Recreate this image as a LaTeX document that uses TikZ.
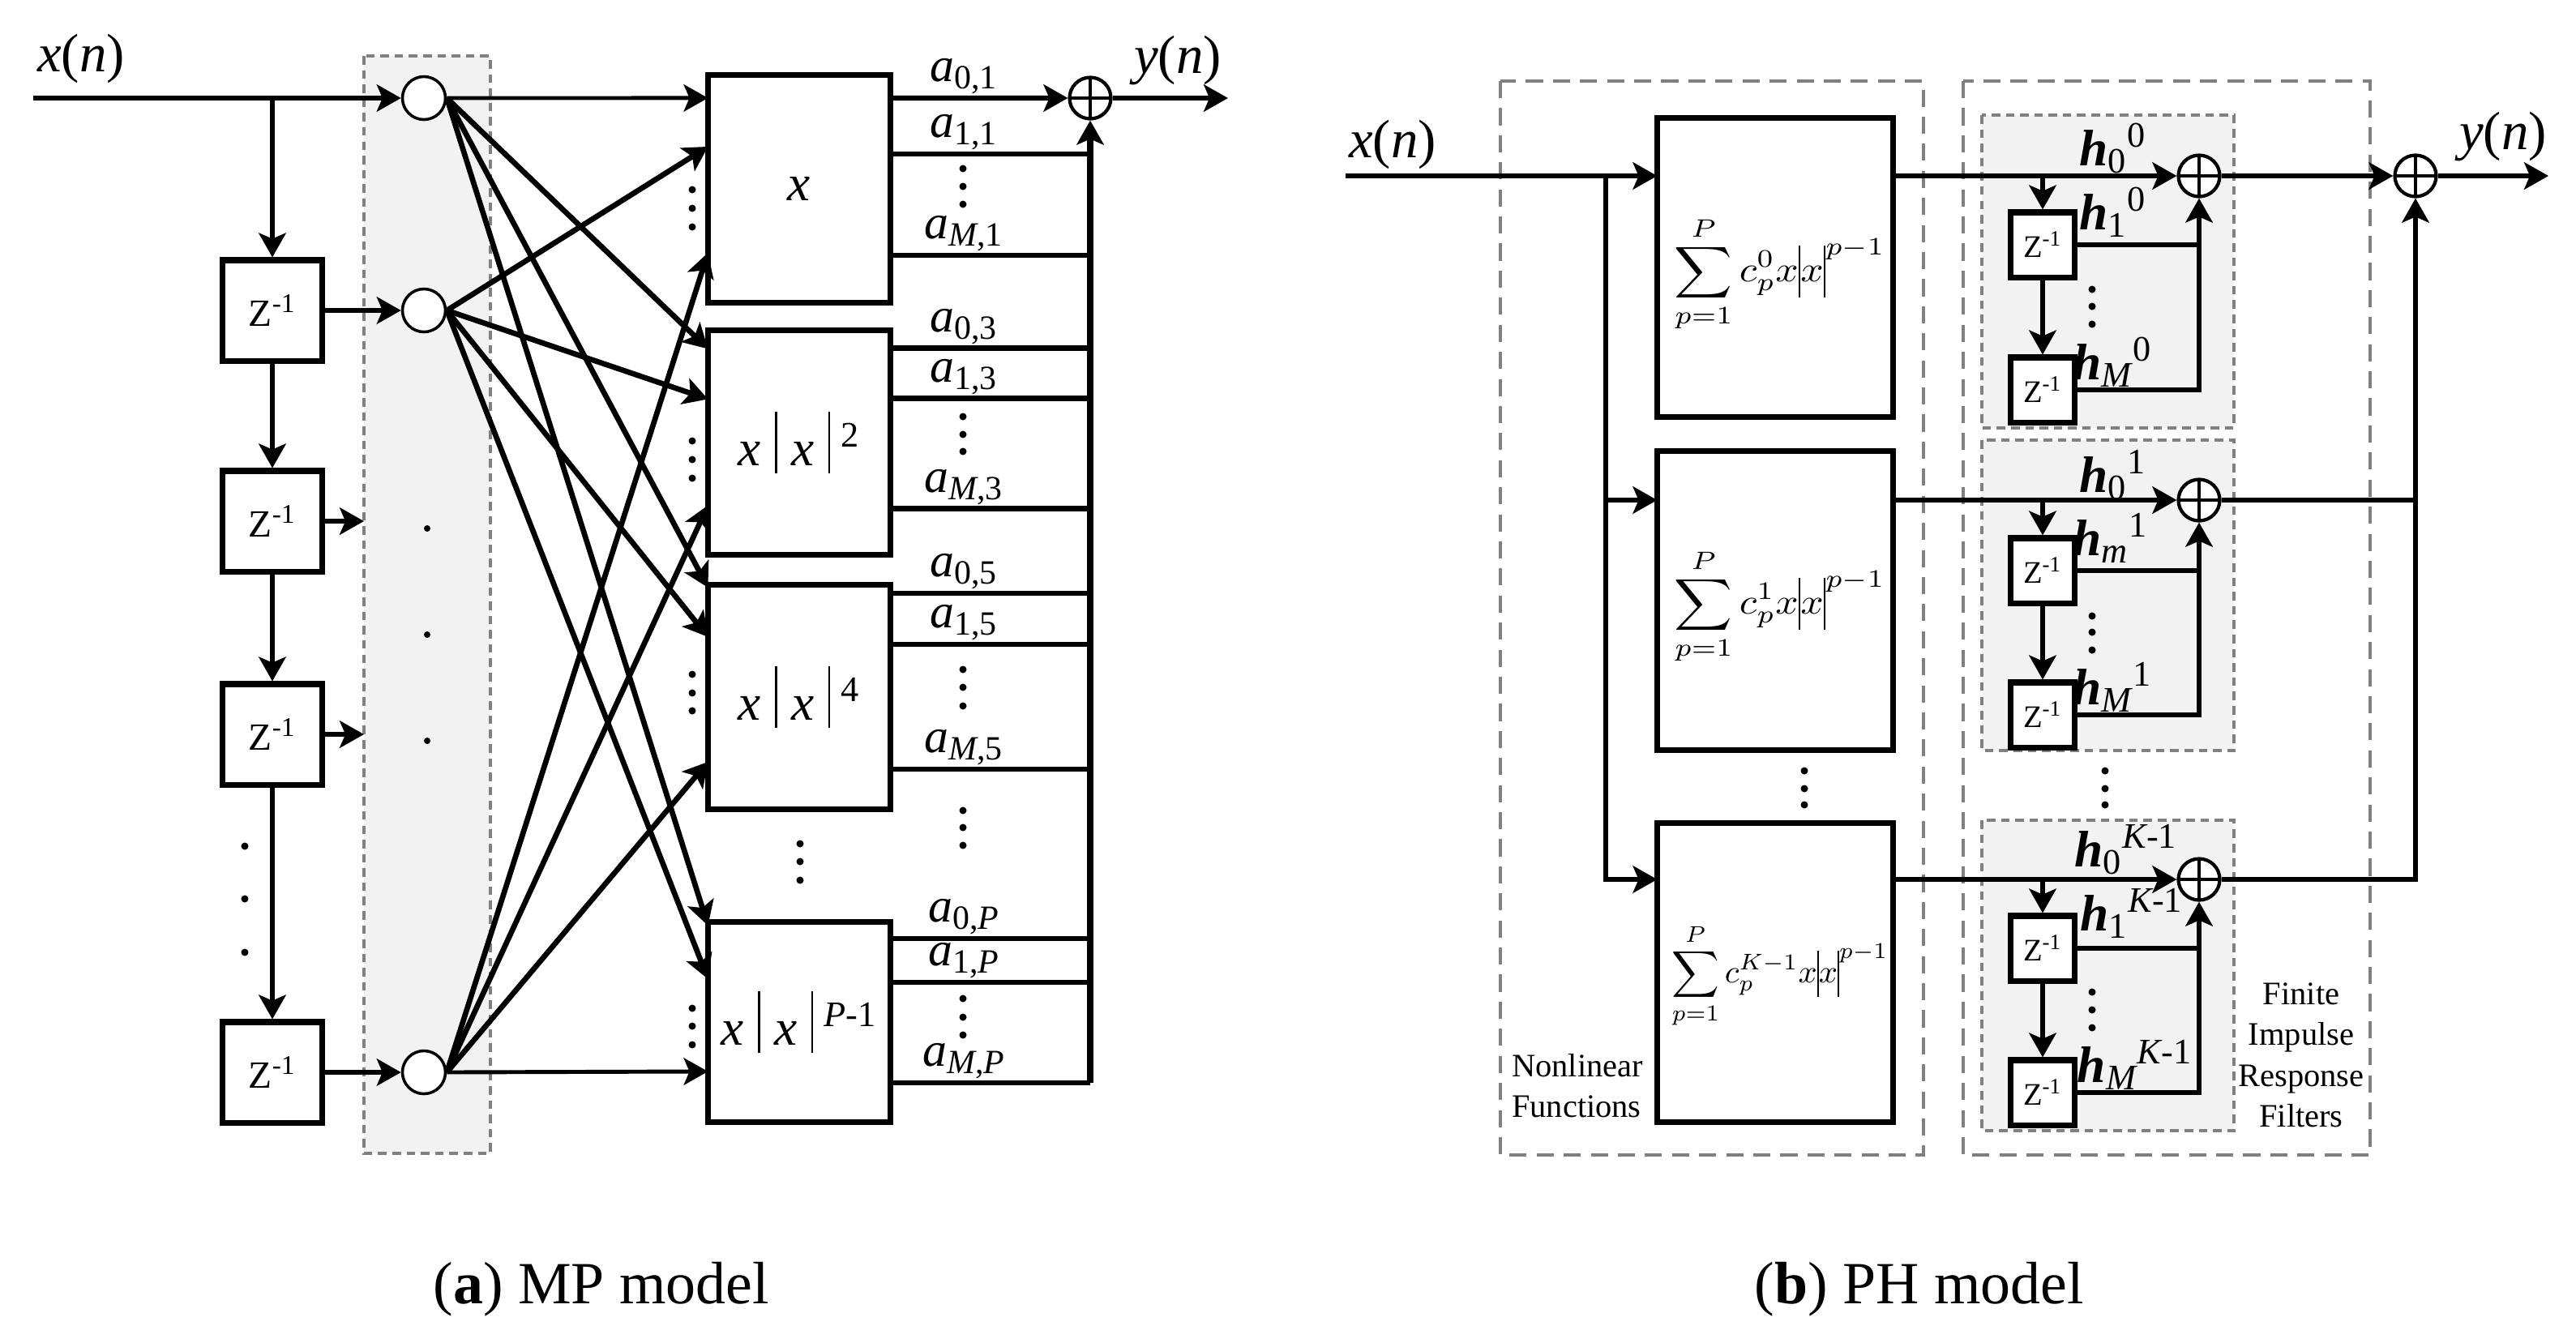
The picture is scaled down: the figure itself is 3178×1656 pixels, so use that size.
\RequirePackage{fix-cm}
\documentclass[tikz,border=0pt]{standalone}
\usepackage{amsmath}
\usepackage{exscale}
\usepackage{graphicx}
\usepackage[no-math]{fontspec}
\setmainfont{Liberation Serif}
\usetikzlibrary{calc, arrows.meta, positioning}

\newcommand{\absbar}{\raisebox{-0.15em}{\rule{0.04em}{1.2em}}}
\newcommand{\sumbar}{\raisebox{-0.45em}{\rule{0.05em}{1.45em}}}
\newcommand{\polysum}[3]{\resizebox*{#2}{#3}{$\displaystyle\sum_{p=1}^{P} c_p^{#1} x\sumbar x\sumbar^{p-1}$}}

\begin{document}
\begin{tikzpicture}[
    x=0.01cm, y=-0.01cm,
    line width=1.8pt,
    arrow/.style={-{Stealth[length=8.5pt, width=9.5pt, inset=2pt]}},
    delay_block/.style={
            rectangle,
            draw,
            fill=white,
            line width=2pt,
            minimum width=1.23cm,
            minimum height=1.24cm,
            inner sep=0pt,
            font=\fontsize{13.5}{16}\selectfont
        },
    tap_block/.style={delay_block, minimum width=0.79cm, minimum height=0.8cm, font=\fontsize{11}{13}\selectfont},
    power_block/.style={
            rectangle,
            draw,
            line width=2pt,
            outer sep=0pt,
            minimum width=2.25cm,
            inner sep=0pt,
            font=\fontsize{18}{21}\selectfont
        },
    func_block/.style={
            rectangle,
            draw,
            line width=2pt,
            outer sep=0pt,
            minimum width=2.91cm,
            minimum height=3.69cm,
            inner sep=0pt
        },
    mix_node/.style={circle, draw, fill=white, line width=1pt, minimum size=0.53cm, inner sep=0pt},
    sum_node/.style={
            circle,
            draw,
            fill=white,
            line width=1.2pt,
            minimum size=0.51cm,
            inner sep=0pt,
            path picture={\draw[line width=1.2pt]
                (path picture bounding box.north) -- (path picture bounding box.south)
                (path picture bounding box.west) -- (path picture bounding box.east);}
        },
    small_dot/.style={circle, fill, inner sep=0pt, minimum size=0.09cm},
    group_border/.style={draw=gray, line width=1pt, dash pattern=on 6pt off 3.5pt},
    shade_border/.style={draw=gray, fill=black!5, line width=1pt, dash pattern=on 3pt off 2pt},
    signal_label/.style={font=\fontsize{19}{22}\selectfont, inner sep=0pt},
    coef_label/.style={font=\fontsize{17}{20}\selectfont, inner sep=0pt, anchor=base},
    tap_label/.style={font=\fontsize{18}{21}\selectfont, inner sep=0pt},
    note_label/.style={font=\fontsize{11.5}{14.3}\selectfont, inner sep=0pt},
    caption_label/.style={font=\fontsize{21}{25}\selectfont, inner sep=0pt}
    ]

    \useasboundingbox (0,0) rectangle (3178,1656);

    % --- (a) Delay line and branches ---
    \draw[shade_border] (449,69) rectangle (605,1423);

    \node[signal_label] (xa) at (100,72) {\textit{x}(\textit{n})};
    \coordinate (in_a) at (41,121);
    \coordinate (br_a) at (336,121);
    \node[mix_node] (mx1) at (523,121) {};
    \node[mix_node] (mx2) at (523,383) {};
    \node[mix_node] (mx3) at (523,1323) {};

    \node[delay_block] (za1) at (336,383) {Z\textsuperscript{-1}};
    \node[delay_block] (za2) at (336,643) {Z\textsuperscript{-1}};
    \node[delay_block] (za3) at (336,906) {Z\textsuperscript{-1}};
    \node[delay_block] (za4) at (336,1323) {Z\textsuperscript{-1}};
    \coordinate (ga2) at (449,643);
    \coordinate (ga3) at (449,906);

    \draw[arrow] (in_a) -- (mx1);
    \draw[arrow] (br_a) -- (za1);
    \draw[arrow] (za1) -- (za2);
    \draw[arrow] (za2) -- (za3);
    \draw[arrow] (za3) -- (za4);
    \draw[arrow] (za1) -- (mx2);
    \draw[arrow] (za2) -- (ga2);
    \draw[arrow] (za3) -- (ga3);
    \draw[arrow] (za4) -- (mx3);

    \foreach \y in {652,783,914} \node[small_dot, minimum size=0.08cm] (gd\y) at (527,\y) {};
    \foreach \y in {1044,1109,1175} \node[small_dot] (zd\y) at (302,\y) {};

    % --- (a) Nonlinear branches ---
    \node[power_block, minimum height=2.8cm] (pw1) at (986,233) {\textit{x}};
    \node[power_block, minimum height=2.77cm] (pw2) at (986,546) {\textit{x}\;\absbar\;\textit{x}\;\absbar\textsuperscript{\hspace{0.3em}2}};
    \node[power_block, minimum height=2.76cm] (pw3) at (986,860) {\textit{x}\;\absbar\;\textit{x}\;\absbar\textsuperscript{\hspace{0.3em}4}};
    \node[power_block, minimum height=2.46cm] (pw4) at (986,1261) {\textit{x}\;\absbar\;\textit{x}\;\absbar\textsuperscript{\hspace{0.3em}\textit{P}-1}};

    \foreach \src/\dst/\dy/\lw in {mx1/pw1/28/1.4, mx1/pw2/23/1.9, mx1/pw3/3/1.9, mx1/pw4/4/1.9,
            mx2/pw1/88/1.9, mx2/pw2/85/1.9, mx2/pw3/64/1.9, mx2/pw4/70/1.9,
            mx3/pw1/219/1.9, mx3/pw2/216/1.9, mx3/pw3/218/1.9, mx3/pw4/184/1.4}
        \draw[arrow, line width=\lw pt] (\src.east) -- ($(\dst.north west)+(0,\dy)$);

    \foreach \y in {234,257,280,544,567,590,832,855,877,1244,1266,1289}
        \node[small_dot] (ld\y) at (854,\y) {};
    \node[small_dot] (md1) at (987,1041) {};
    \node[small_dot] (md2) at (987,1063) {};
    \node[small_dot] (md3) at (987,1086) {};

    % --- (a) Coefficients and output ---
    \node[sum_node] (sum_a) at (1345,121) {};
    \coordinate (bus_a) at (1345,1336);
    \coordinate (out_a) at (1515,121);
    \node[signal_label] (ya) at (1453,75) {\textit{y}(\textit{n})};

    \coordinate (o01) at ($(pw1.north east)+(0,28)$);
    \draw[arrow] (o01) -- (sum_a);
    \node[coef_label] (c01) at ($(o01)+(91,-20)$) {$\textit{a}_{\textrm{0,1}}$};

    \foreach \blk/\dy/\sub in {pw1/97/{1,1}, pw1/222/{\textit{M},1},
            pw2/22/{0,3}, pw2/84/{1,3}, pw2/220/{\textit{M},3},
            pw3/10/{0,5}, pw3/73/{1,5}, pw3/227/{\textit{M},5},
            pw4/20/{0,\textit{P}}, pw4/74/{1,\textit{P}}, pw4/198/{\textit{M},\textit{P}}} {
        \coordinate (tap) at ($(\blk.north east)+(0,\dy)$);
        \draw (tap) -- (tap -| bus_a);
        \node[coef_label] (c\blk\dy) at ($(tap)+(91,-20)$) {$\textit{a}_{\textrm{\sub}}$};
    }

    \foreach \y in {208,230,252,514,536,557,826,848,871,1000,1021,1043,1232,1255,1277}
        \node[small_dot] (rd\y) at (1188,\y) {};

    \draw[arrow, line width=2.1pt] (bus_a) -- (sum_a);
    \draw[arrow] (sum_a) -- (out_a);

    % --- (b) Group borders ---
    \draw[group_border] (1851,100) rectangle (2373,1425);
    \draw[group_border] (2422,100) rectangle (2924,1425);
    \draw[shade_border] (2445,142) rectangle (2756,528);
    \draw[shade_border] (2445,543) rectangle (2756,926);
    \draw[shade_border] (2445,1012) rectangle (2756,1395);

    % --- (b) Nonlinear functions ---
    \node[signal_label] (xb) at (1718,178) {\textit{x}(\textit{n})};
    \coordinate (in_b) at (1660,217);
    \coordinate (row1) at (1981,217);
    \coordinate (row2) at (1981,617);
    \coordinate (row3) at (1981,1085);

    \node[func_block] (nf1) at (2190,330) {};
    \node[func_block] (nf2) at (2190,741) {};
    \node[func_block] (nf3) at (2190,1200) {};
    \node[inner sep=0pt] (nf1_eq) at ($(nf1)+(6,8)$) {\polysum{0}{74pt}{40.7pt}};
    \node[inner sep=0pt] (nf2_eq) at ($(nf2)+(6,7)$) {\polysum{1}{74pt}{40.7pt}};
    \node[inner sep=0pt] (nf3_eq) at ($(nf3)+(6,4)$) {\polysum{K-1}{76pt}{36.7pt}};

    \draw[arrow] (in_b) -- (row1 -| nf1.west);
    \draw[arrow] (row1) -- (row3) -- (row3 -| nf3.west);
    \draw[arrow] (row2) -- (row2 -| nf2.west);

    \foreach \y in {951,973,993} \node[small_dot] (nd\y) at (2226,\y) {};
    \node[note_label, align=left, anchor=south west] (nf_note) at (1862,1382) {Nonlinear\\Functions};

    % --- (b) FIR filters ---
    \node[sum_node] (s1) at (2713,217) {};
    \node[sum_node] (s2) at (2713,617) {};
    \node[sum_node] (s3) at (2713,1085) {};
    \node[sum_node] (sum_b) at (2980,217) {};
    \coordinate (out_b) at (3144,217);
    \node[signal_label] (yb) at (3088,169) {\textit{y}(\textit{n})};

    \coordinate (tp1) at (2520,217);
    \coordinate (tp2) at (2520,617);
    \coordinate (tp3) at (2520,1085);
    \node[tap_block] (z11) at (2520,302) {Z\textsuperscript{-1}};
    \node[tap_block] (z12) at (2520,481) {Z\textsuperscript{-1}};
    \node[tap_block] (z21) at (2520,704) {Z\textsuperscript{-1}};
    \node[tap_block] (z22) at (2520,882) {Z\textsuperscript{-1}};
    \node[tap_block] (z31) at (2520,1170) {Z\textsuperscript{-1}};
    \node[tap_block] (z32) at (2520,1348) {Z\textsuperscript{-1}};

    \foreach \k in {1,2,3} {
        \draw[arrow] (row\k -| nf\k.east) -- (s\k);
        \draw[arrow] (tp\k) -- (z\k1);
        \draw[arrow] (z\k1) -- (z\k2);
        \draw (z\k1.east) -- (z\k1.east -| s\k);
        \draw[arrow] (z\k2.east) -| (s\k);
    }

    \draw[arrow] (s1) -- (sum_b);
    \draw (s2) -- (s2 -| sum_b);
    \draw[arrow] (s3) -| (sum_b);
    \draw[arrow] (sum_b) -- (out_b);

    \foreach \y in {357,378,400,760,780,802,1224,1246,1268} \node[small_dot] (fd\y) at (2581,\y) {};
    \foreach \y in {951,973,993} \node[small_dot] (bd\y) at (2597,\y) {};

    \node[tap_label] (h00) at (2607,183) {$\textbf{\textit{h}}_{\textrm{0}}{}^{\textrm{0}}$};
    \node[tap_label] (h10) at (2607,262) {$\textbf{\textit{h}}_{\textrm{1}}{}^{\textrm{0}}$};
    \node[tap_label] (hM0) at (2606,447) {$\textbf{\textit{h}}_{\textit{M}}{}^{\textrm{0}}$};
    \node[tap_label] (h01) at (2607,586) {$\textbf{\textit{h}}_{\textrm{0}}{}^{\textrm{1}}$};
    \node[tap_label] (hm1) at (2604,664) {$\textbf{\textit{h}}_{\textit{m}}{}^{\textrm{1}}$};
    \node[tap_label] (hM1) at (2606,848) {$\textbf{\textit{h}}_{\textit{M}}{}^{\textrm{1}}$};
    \node[tap_label] (h0K) at (2623,1048) {$\textbf{\textit{h}}_{\textrm{0}}{}^{\textit{K}\textrm{-1}}$};
    \node[tap_label] (h1K) at (2630,1127) {$\textbf{\textit{h}}_{\textrm{1}}{}^{\textit{K}\textrm{-1}}$};
    \node[tap_label] (hMK) at (2634,1314) {$\textbf{\textit{h}}_{\textit{M}}{}^{\textit{K}\textrm{-1}}$};

    \node[note_label, align=center, anchor=south] (fir_note) at (2839,1394) {Finite\\Impulse\\Response\\Filters};

    % --- Captions ---
    \node[caption_label] (cap_a) at (742,1591) {(\textbf{a}) MP model};
    \node[caption_label] (cap_b) at (2368,1591) {(\textbf{b}) PH model};

\end{tikzpicture}
\end{document}
